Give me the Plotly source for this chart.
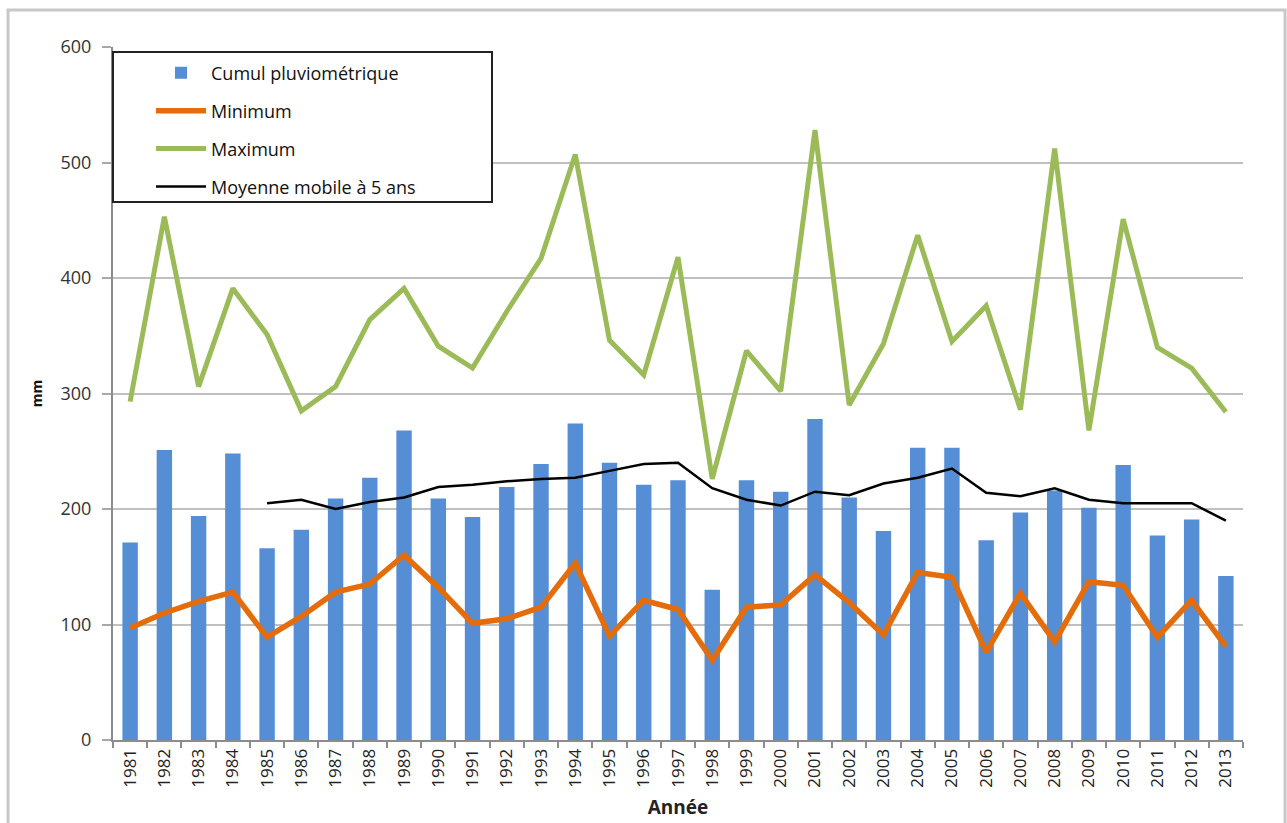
import plotly.graph_objects as go

# Annual rainfall statistics, 1981-2013 (mm)
years = [str(y) for y in range(1981, 2014)]

cumul = [171, 251, 194, 248, 166, 182, 209, 227, 268, 209, 193, 219, 239, 274,
         240, 221, 225, 130, 225, 215, 278, 210, 181, 253, 253, 173, 197, 216,
         201, 238, 177, 191, 142]

minimum = [97, 110, 120, 128, 89, 107, 128, 135, 160, 132, 101, 105, 115, 153,
           90, 121, 113, 69, 115, 117, 143, 119, 91, 145, 141, 76, 127, 85,
           137, 134, 89, 121, 81]

maximum = [293, 453, 306, 391, 351, 285, 306, 364, 391, 341, 322, 371, 417, 507,
           346, 316, 418, 226, 337, 302, 528, 290, 343, 437, 345, 376, 286, 512,
           268, 451, 340, 322, 284]

# 5-year moving average, defined from 1985 onward
moy_years = years[4:]
moyenne = [205, 208, 200, 206, 210, 219, 221, 224, 226, 227, 233, 239, 240,
           218, 208, 203, 215, 212, 222, 227, 235, 214, 211, 218, 208, 205,
           205, 205, 190]

FONT = "'Open Sans', Lato, sans-serif"

fig = go.Figure()
fig.add_trace(go.Bar(x=years, y=cumul, name="Cumul pluviométrique",
                     marker=dict(color="#558ED5", line=dict(width=0)),
                     legendgroup="a"))
fig.add_trace(go.Scatter(x=years, y=minimum, name="Minimum", mode="lines",
                         line=dict(color="#E46C0A", width=5.5),
                         legendgroup="b"))
fig.add_trace(go.Scatter(x=years, y=maximum, name="Maximum", mode="lines",
                         line=dict(color="#9BBB59", width=5),
                         legendgroup="c"))
fig.add_trace(go.Scatter(x=moy_years, y=moyenne, name="Moyenne mobile à 5 ans",
                         mode="lines", line=dict(color="#000000", width=2.5),
                         legendgroup="d"))

fig.update_layout(
    width=1287, height=823,
    margin=dict(l=113, r=44, t=47, b=83),
    paper_bgcolor="white", plot_bgcolor="white",
    bargap=0.55,
    font=dict(family=FONT, size=16, color="#333333"),
    showlegend=True,
    legend=dict(
        x=0.0, y=0.989, xanchor="left", yanchor="top",
        bgcolor="rgba(0,0,0,0)", borderwidth=0,
        font=dict(family=FONT, size=18, color="#111111"),
        tracegroupgap=11.5, itemwidth=50, indentation=38,
        traceorder="grouped",
    ),
    xaxis=dict(
        type="category", showgrid=False, automargin=False,
        showline=True, linecolor="#8C8C8C", linewidth=2,
        ticks="outside", ticklen=6, tickcolor="#8C8C8C", tickwidth=1.5,
        tickson="boundaries", tickangle=-90,
        tickfont=dict(family=FONT, size=17, color="#222222"),
        title=dict(text="<b>Année</b>", font=dict(family=FONT, size=19, color="#222222"),
                   standoff=14),
    ),
    yaxis=dict(
        range=[0, 600], dtick=100, tick0=0, automargin=False,
        showgrid=True, gridcolor="#C0C0C0", gridwidth=2,
        showline=True, linecolor="#8C8C8C", linewidth=2,
        ticks="outside", ticklen=9, tickcolor="#A8A8A8", tickwidth=2,
        ticklabelstandoff=7,
        zeroline=False,
        tickfont=dict(family=FONT, size=18, color="#333333"),
        title=dict(text="<b>mm</b>", font=dict(family=FONT, size=14, color="#111111"),
                   standoff=15),
    ),
    shapes=[
        # outer chart frame
        dict(type="rect", xref="paper", yref="paper",
             x0=-0.0929, x1=1.0372, y0=-0.25, y1=1.0534,
             line=dict(color="#C8C8C8", width=3), fillcolor="rgba(0,0,0,0)",
             layer="below"),
        # legend box
        dict(type="rect", xref="paper", yref="paper",
             x0=0.0, x1=0.3354, y0=0.7763, y1=0.9928,
             line=dict(color="#222222", width=2), fillcolor="white",
             layer="above"),
    ],
)

fig.write_html("out.html")
